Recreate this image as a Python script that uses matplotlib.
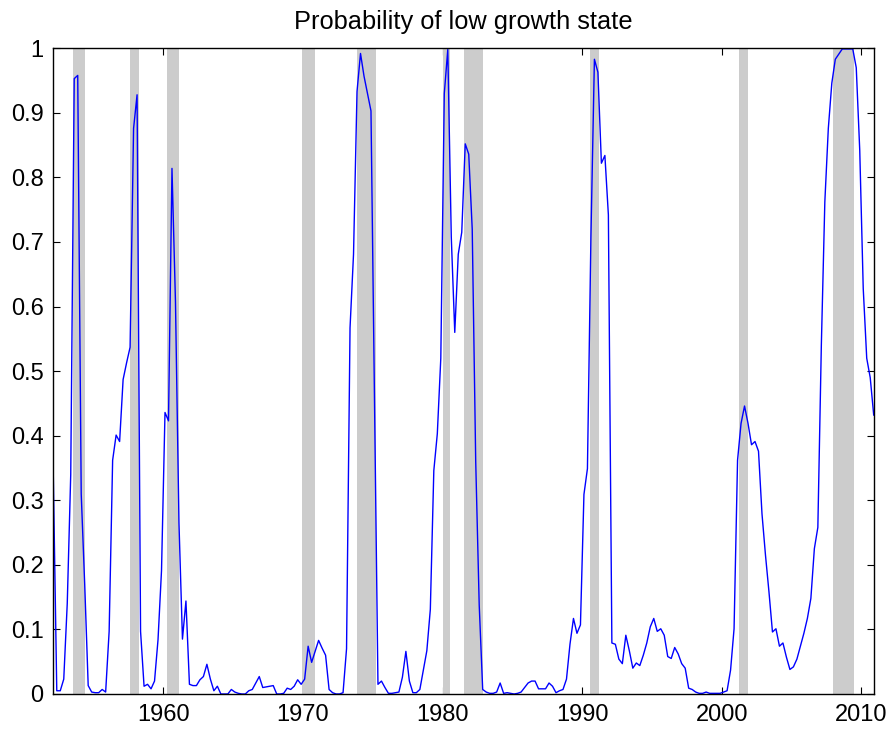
import numpy as np
import matplotlib
matplotlib.use("Agg")
import matplotlib.pyplot as plt

plt.rcParams['font.family'] = ['Liberation Sans', 'DejaVu Sans']

# ---- data: quarterly smoothed probability, 1952Q1 .. 2010Q4 ----
first_quarter = 1952.125   # mid-point of 1952Q1
prob = [
    0.34, 0.005, 0.005, 0.023, 0.14, 0.34, 0.953, 0.958, 0.31, 0.17,
    0.013, 0.003, 0.002, 0.002, 0.007, 0.003, 0.097, 0.362, 0.401, 0.391,
    0.487, 0.513, 0.537, 0.876, 0.928, 0.097, 0.012, 0.015, 0.008, 0.02,
    0.084, 0.191, 0.436, 0.423, 0.814, 0.607, 0.265, 0.085, 0.144, 0.015,
    0.013, 0.013, 0.022, 0.027, 0.046, 0.023, 0.005, 0.012, 0.0, 0.0,
    0.0, 0.007, 0.003, 0.001, 0.0, 0.0, 0.005, 0.007, 0.017, 0.027,
    0.01, 0.011, 0.012, 0.013, 0.0, 0.0, 0.001, 0.009, 0.007, 0.012,
    0.022, 0.015, 0.023, 0.074, 0.049, 0.066, 0.083, 0.071, 0.06, 0.007,
    0.002, 0.0, 0.0, 0.002, 0.07, 0.567, 0.681, 0.933, 0.992, 0.957,
    0.93, 0.903, 0.46, 0.015, 0.02, 0.01, 0.001, 0.001, 0.002, 0.003,
    0.026, 0.066, 0.02, 0.002, 0.002, 0.007, 0.037, 0.067, 0.131, 0.346,
    0.403, 0.52, 0.93, 0.998, 0.708, 0.56, 0.681, 0.715, 0.852, 0.836,
    0.72, 0.36, 0.138, 0.007, 0.003, 0.001, 0.001, 0.003, 0.017, 0.001,
    0.002, 0.001, 0.0, 0.001, 0.003, 0.01, 0.017, 0.02, 0.02, 0.008,
    0.008, 0.008, 0.017, 0.012, 0.002, 0.005, 0.007, 0.023, 0.077, 0.117,
    0.094, 0.107, 0.309, 0.349, 0.708, 0.983, 0.963, 0.822, 0.834, 0.742,
    0.079, 0.077, 0.054, 0.047, 0.091, 0.067, 0.04, 0.048, 0.044, 0.06,
    0.079, 0.104, 0.117, 0.097, 0.101, 0.091, 0.058, 0.055, 0.072, 0.062,
    0.047, 0.04, 0.009, 0.007, 0.003, 0.001, 0.001, 0.003, 0.001, 0.001,
    0.001, 0.001, 0.003, 0.005, 0.037, 0.101, 0.362, 0.419, 0.446, 0.419,
    0.386, 0.391, 0.376, 0.279, 0.215, 0.158, 0.096, 0.101, 0.074, 0.079,
    0.057, 0.038, 0.042, 0.054, 0.074, 0.094, 0.117, 0.148, 0.225, 0.258,
    0.54, 0.762, 0.876, 0.946, 0.983, 0.991, 0.999, 0.999, 0.999, 0.999,
    0.97, 0.842, 0.628, 0.52, 0.49, 0.432,
]
dates = first_quarter + np.arange(len(prob)) / 4

# NBER recessions: (year, month) of peak and trough
rec_peaks = [(1953, 7), (1957, 8), (1960, 4), (1969, 12), (1973, 11),
             (1980, 1), (1981, 7), (1990, 7), (2001, 3), (2007, 12)]
rec_troughs = [(1954, 5), (1958, 4), (1961, 2), (1970, 11), (1975, 3),
               (1980, 7), (1982, 11), (1991, 3), (2001, 11), (2009, 6)]

xticks = [1960, 1970, 1980, 1990, 2000, 2010]
yticks = [0, 0.1, 0.2, 0.3, 0.4, 0.5, 0.6, 0.7, 0.8, 0.9, 1]
ytick_labels = ['0', '0.1', '0.2', '0.3', '0.4', '0.5', '0.6', '0.7', '0.8', '0.9', '1']

# ---- plot ----
fig = plt.figure(figsize=(8.94, 7.35), dpi=100)
ax = fig.add_axes([0.0596, 0.0558, 0.9177, 0.8785])

for (py, pm), (ty, tm) in zip(rec_peaks, rec_troughs):
    ax.axvspan(py + (pm - 0.5) / 12, ty + (tm - 0.5) / 12,
               color='#cccccc', lw=0, zorder=1)

ax.plot(dates, prob, color='#0000ff', lw=1.0, zorder=3)

ax.set_xlim(dates[0], dates[-1])
ax.set_ylim(0, 1)
ax.set_xticks(xticks)
ax.set_yticks(yticks)
ax.set_yticklabels(ytick_labels)
ax.set_axisbelow(True)
ax.tick_params(direction='in', length=5.3, width=0.8, top=True, right=True,
               labelsize=17, pad=7, colors='black')
for sp in ax.spines.values():
    sp.set_linewidth(1.0)
    sp.set_zorder(4)

ax.set_title('Probability of low growth state', fontsize=18.3, pad=14)

fig.savefig('out.png', dpi=100)
